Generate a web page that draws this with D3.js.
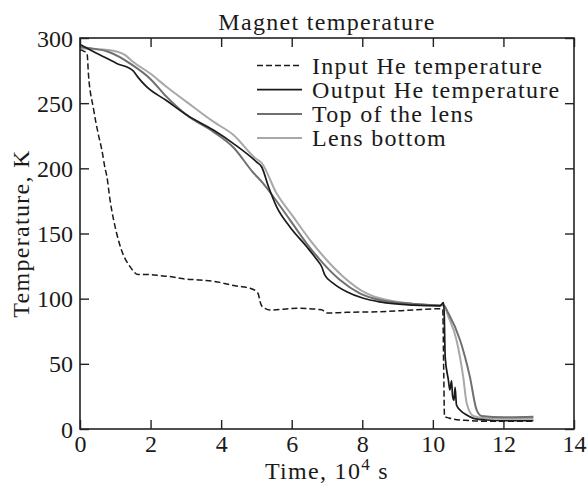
<!DOCTYPE html>
<html><head><meta charset="utf-8">
<script src="https://cdn.jsdelivr.net/npm/d3@7"></script>
<style>body{margin:0;background:#fff}svg text{font-family:"Liberation Serif","Times New Roman",serif;fill:#1a1a1a}</style>
</head><body><svg id="c" width="588" height="485"></svg>
<script>
const xTicks=[0,2,4,6,8,10,12,14];
const yTicks=[0,50,100,150,200,250,300];
const seriesNames=["Input He temperature","Output He temperature","Top of the lens","Lens bottom"];
const inputT=[0,0.1,0.2,0.24,0.38,0.52,0.62,0.71,0.76,0.85,1.04,1.18,1.42,1.65,1.98,2.3,2.64,2.83,3.4,3.97,4.2,4.44,4.82,5.02,5.06,5.1,5.16,5.24,5.38,6.14,6.85,6.99,7.55,8.5,9.45,10.2,10.28,10.31,10.33,10.45,10.6,11.0,11.5,12.0,12.85];
const inputV=[291,290,288,272,246,226,214,200,194,176,150,137,124.5,118.5,118.5,117.5,116.6,115.6,114.3,112.5,111,109.7,108,105,103,98,94,92.6,91.3,92.6,91.5,89,89.5,90,91.3,92.3,92,40,9.5,8.5,7.5,6.5,6,6,6];
const outputT=[0,0.28,0.57,1.04,1.5,1.64,1.87,2.45,3.02,3.78,4.35,5.0,5.15,5.34,5.57,5.95,6.42,6.71,6.85,6.94,7.18,7.56,8.03,8.5,9.45,10.2,10.3,10.32,10.35,10.44,10.48,10.53,10.56,10.6,10.63,10.67,10.77,10.96,11.15,11.52,12.0,12.85];
const outputV=[295,291,287,280.5,275,270,263,252,241,229.4,219,205,201,186,170.6,155,140,130,124.5,118,111.8,105.3,100.3,97.5,95,94.4,97,90,55,37.6,30,37,25,22,32,18.4,14.6,10.7,8.2,6.9,6.5,6.5];
const topT=[0,0.8,1.5,1.98,2.45,3.02,3.78,4.35,4.9,5.19,5.48,5.95,6.42,6.89,7.37,7.93,8.5,9.45,10.2,10.3,10.44,10.77,11.05,11.24,11.38,12.0,12.85];
const topV=[293,289.5,279,269,255,241,228,216,197,188.5,178.2,160.4,142.5,127.1,114.3,104.1,99,96,94.8,95,88.8,68.3,40,14.6,10,9,9.4];
const botT=[0,0.8,1.27,1.5,1.98,2.45,3.02,3.78,4.35,4.96,5.15,5.57,6.04,6.52,6.99,7.46,8.12,8.5,9.45,10.2,10.3,10.44,10.67,10.86,10.96,11.15,11.52,12.85];
const botV=[292,290.8,287,281.8,272.9,262.6,251,235.8,225.6,208,204,180.8,162.9,145,129.7,116.9,104.1,100.3,96,95,95.2,86.2,68.3,40,19.6,10,8.2,8.2];

const svg=d3.select("#c");
const L=80,T=38,R=574,B=429;
const x=d3.scaleLinear().domain([0,14]).range([L,R]);
const y=d3.scaleLinear().domain([0,300]).range([B,T]);
const fs=24, ls=1.3;

const styles=[
 {c:"#1a1a1a",w:1.5,d:"6,3"},
 {c:"#1a1a1a",w:1.7,d:null},
 {c:"#707070",w:2,d:null},
 {c:"#a8a8a8",w:2,d:null}];
const data=[[inputT,inputV],[outputT,outputV],[topT,topV],[botT,botV]];
const line=d3.line().x(d=>x(d[0])).y(d=>y(d[1])).curve(d3.curveMonotoneX);
const g=svg.append("g");
[3,2,1,0].forEach(i=>{
  const pts=data[i][0].map((t,k)=>[t,data[i][1][k]]);
  g.append("path").attr("d",line(pts)).attr("fill","none")
   .attr("stroke",styles[i].c).attr("stroke-width",styles[i].w)
   .attr("stroke-dasharray",styles[i].d).attr("stroke-linejoin","round");
});

const tl=9;
const ax=[
 svg.append("g").attr("transform",`translate(0,${B})`).call(d3.axisBottom(x).tickValues(xTicks).tickSizeInner(-tl).tickSizeOuter(0)),
 svg.append("g").attr("transform",`translate(0,${T})`).call(d3.axisTop(x).tickValues(xTicks).tickSizeInner(-tl).tickSizeOuter(0).tickFormat("")),
 svg.append("g").attr("transform",`translate(${L},0)`).call(d3.axisLeft(y).tickValues(yTicks).tickSizeInner(-tl).tickSizeOuter(0)),
 svg.append("g").attr("transform",`translate(${R},0)`).call(d3.axisRight(y).tickValues(yTicks).tickSizeInner(-tl).tickSizeOuter(0).tickFormat(""))];
ax.forEach(a=>a.select(".domain").remove());
svg.selectAll(".tick line").attr("stroke","#222").attr("stroke-width",1.4);
svg.selectAll(".tick text").attr("font-size",fs).attr("fill","#1a1a1a");
ax[0].selectAll(".tick text").attr("y",23).attr("dy",0);
ax[2].selectAll(".tick text").attr("x",-7).attr("dy",0).attr("y",8);
svg.append("rect").attr("x",L).attr("y",T).attr("width",R-L).attr("height",B-T).attr("fill","none").attr("stroke","#222").attr("stroke-width",1.6);

svg.append("text").attr("x",(L+R)/2).attr("y",30).attr("text-anchor","middle").attr("font-size",fs).attr("letter-spacing",ls).text("Magnet temperature");
const xl=svg.append("text").attr("x",(L+R)/2).attr("y",479).attr("text-anchor","middle").attr("font-size",fs).attr("letter-spacing",ls);
xl.append("tspan").text("Time, 10");
xl.append("tspan").attr("font-size",17).attr("dy",-9).text("4");
xl.append("tspan").attr("dy",9).text(" s");
svg.append("text").attr("transform",`translate(29,${(T+B)/2}) rotate(-90)`).attr("text-anchor","middle").attr("font-size",fs).attr("letter-spacing",ls).text("Temperature, K");

const lg=svg.append("g");
seriesNames.forEach((n,i)=>{
  const by=73.5+i*24.2;
  lg.append("line").attr("x1",257).attr("x2",302).attr("y1",by-8).attr("y2",by-8)
   .attr("stroke",styles[i].c).attr("stroke-width",styles[i].w).attr("stroke-dasharray",styles[i].d);
  lg.append("text").attr("x",312).attr("y",by).attr("font-size",fs).attr("letter-spacing",ls).text(n);
});
</script></body></html>
